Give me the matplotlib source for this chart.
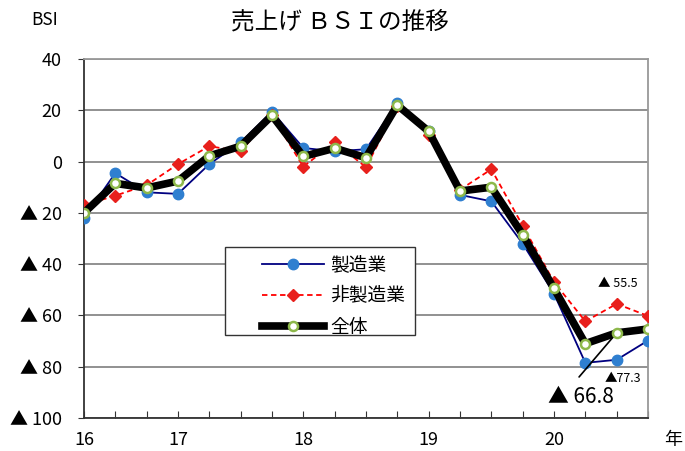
import matplotlib
matplotlib.use('Agg')
import matplotlib.pyplot as plt
from matplotlib.patches import Rectangle
import numpy as np

plt.rcParams['font.family'] = ['Noto Sans CJK JP', 'DejaVu Sans']

# quarterly BSI values, 2016 .. 2020
seizo = [-22, -4.5, -12, -12.6, -1, 7.5, 19.5, 5.3, 4, 4.8, 22.8, 12, -13, -15.5, -32, -51.5, -78.5, -77.3, -69.8]
hiseizo = [-17, -13.3, -9.2, -1, 6, 4, 18, -2, 7.5, -2.2, 21.5, 10.5, -11, -3, -25, -47, -62.3, -55.5, -60.2]
zentai = [-20, -8.5, -10.3, -7.6, 2.2, 6, 18, 2, 5.2, 1.5, 22, 11.8, -11.5, -10, -28.5, -49.5, -71, -66.8, -65.3]
series_names = ['製造業', '非製造業', '全体']
year_labels = ['16', '17', '18', '19', '20']
year_pos = [0, 3, 7, 11, 15]
ytick_vals = [40, 20, 0, -20, -40, -60, -80, -100]

fig = plt.figure(figsize=(6.85, 4.51), dpi=100)
ax = fig.add_axes([0.1226, 0.0732, 0.8234, 0.796])
x = np.arange(len(seizo))

ax.plot(x, seizo, color='#000080', lw=1.3, marker='o', ms=7.5,
        mfc='#2F7FD0', mec='#2F7FD0', label=series_names[0], zorder=3)
ax.plot(x, hiseizo, color='#FF0000', lw=1.3, ls=(0, (3, 2)), marker='D', ms=6,
        mfc='#E8201C', mec='#E8201C', label=series_names[1], zorder=4)
ax.plot(x, zentai, color='black', lw=5.5, marker='o', ms=6.5,
        mfc='white', mec='#8DB84A', mew=1.8, label=series_names[2], zorder=5)

ax.set_xlim(0, 18)
ax.set_ylim(-100, 40)
ax.set_yticks(ytick_vals)
ax.set_yticklabels([str(v) if v >= 0 else '▲ ' + str(-v) for v in ytick_vals], fontsize=13)
ax.yaxis.grid(True, color='#888888', lw=1.3)
ax.set_axisbelow(True)
ax.set_xticks(x)
ax.set_xticklabels([])
ax.tick_params(axis='x', direction='in', length=5, color='#333333')
ax.tick_params(axis='y', length=4, color='#333333', pad=12)
for p, lab in zip(year_pos, year_labels):
    ax.text(p, -105, lab, ha='center', va='top', fontsize=13)
ax.text(18.8, -105, '年', ha='center', va='top', fontsize=13)

for s in ['top', 'right']:
    ax.spines[s].set_color('#999999')
    ax.spines[s].set_linewidth(1.3)
for s in ['left', 'bottom']:
    ax.spines[s].set_color('#333333')
    ax.spines[s].set_linewidth(1.3)

# legend frame drawn separately so the wide left padding matches
ax.add_patch(Rectangle((0.25, 0.231), 0.337, 0.245, transform=ax.transAxes,
                       facecolor='white', edgecolor='#333333', lw=1.0, zorder=6))
leg = ax.legend(loc='upper left', bbox_to_anchor=(0.316, 0.456), fontsize=13.5,
                frameon=False, borderaxespad=0, borderpad=0,
                handlelength=3.3, handletextpad=0.35, labelspacing=0.55)
leg.set_zorder(7)

ax.text(16.4, -47.5, '▲ 55.5', fontsize=9, va='center')
ax.text(16.6, -84.5, '▲77.3', fontsize=9, va='center')
ax.annotate('', xy=(17, zentai[17]), xytext=(15.8, -84),
            arrowprops=dict(arrowstyle='-', color='black', lw=1.2,
                            shrinkA=0, shrinkB=0))
ax.text(14.8, -92, '▲ 66.8', fontsize=15, va='center')

fig.text(0.065, 0.955, 'BSI', fontsize=12.5, ha='center', va='center')
fig.text(0.496, 0.952, '売上げ ＢＳＩの推移', fontsize=17, ha='center', va='center')

fig.savefig('out.png', dpi=100)
